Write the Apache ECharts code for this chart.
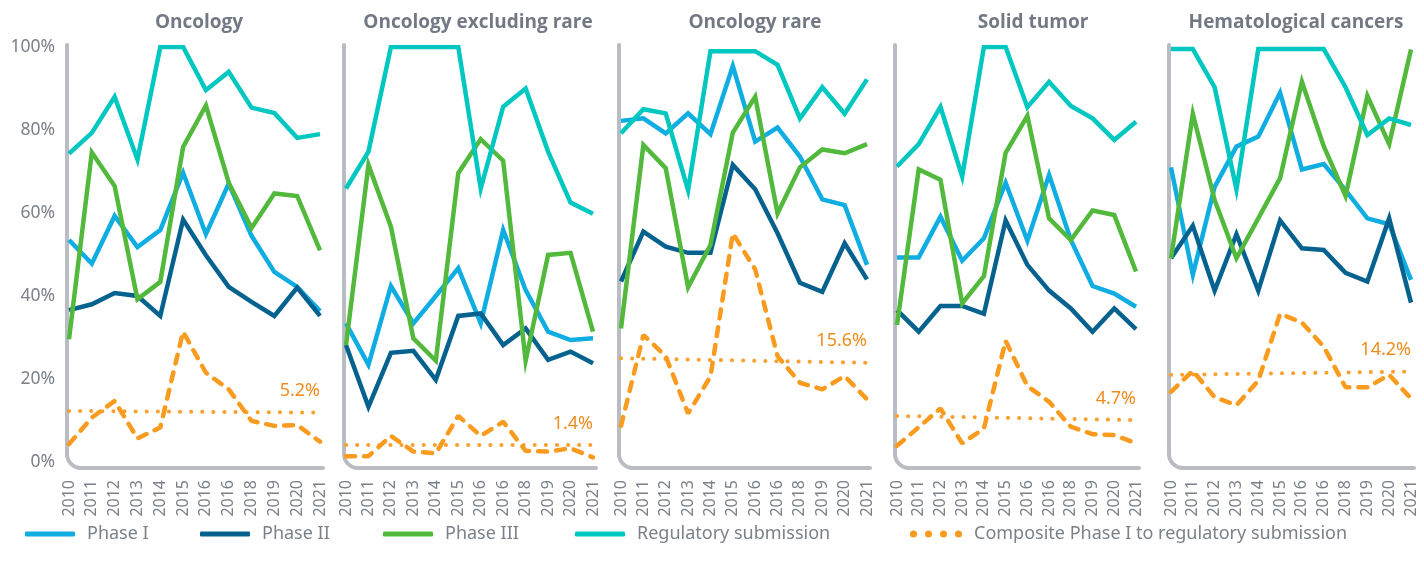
<!DOCTYPE html>
<html><head><meta charset="utf-8">
<script src="https://cdn.jsdelivr.net/npm/echarts@6/dist/echarts.min.js"></script>
<style>html,body{margin:0;padding:0;background:#fff;}#c{width:1424px;height:571px;}</style>
</head><body><div id="c"></div>
<script>
const categories = ['2010','2011','2012','2013','2014','2015','2016','2016','2018','2019','2020','2021'];
const panels = ['Oncology','Oncology excluding rare','Oncology rare','Solid tumor','Hematological cancers'];
const yTicks = [0,20,40,60,80,100];
const seriesNames = ['Phase I','Phase II','Phase III','Regulatory submission','Composite Phase I to regulatory submission'];

const phase1 = [
  [53.5,47.8,59.3,51.8,55.9,69.7,54.9,67.1,54.5,45.8,42.2,36.4],
  [33.4,23.4,42.4,33.4,40.0,46.7,33.4,55.9,41.4,31.4,29.4,29.8],
  [82.2,82.8,79.2,84.0,79.0,95.4,77.2,80.6,73.6,63.3,61.9,47.5],
  [49.3,49.3,59.1,48.5,53.9,67.3,53.3,69.2,53.5,42.4,40.6,37.4],
  [71.0,45.1,66.3,76.0,78.4,89.0,70.5,71.8,65.5,58.7,57.3,43.9]
];
const phase2 = [
  [36.6,38.0,40.7,40.0,35.2,58.4,49.8,42.2,38.6,35.2,42.0,35.2],
  [28.2,13.3,26.3,26.8,19.8,35.2,35.8,28.2,32.2,24.6,26.6,23.8],
  [43.5,55.5,51.9,50.4,50.4,71.6,65.7,55.1,43.2,41.0,52.7,44.0],
  [36.6,31.4,37.6,37.6,35.7,58.2,47.5,41.3,37.0,31.4,37.0,32.0],
  [49.1,56.9,41.3,54.9,41.3,58.2,51.5,51.1,45.6,43.5,58.7,38.4]
];
const phase3 = [
  [29.6,74.6,66.5,39.2,43.4,75.9,85.9,67.3,56.4,64.7,64.1,51.0],
  [28.2,71.6,56.7,29.8,24.4,69.6,77.8,72.6,24.4,49.9,50.4,31.4],
  [32.2,76.4,70.8,42.1,52.3,79.4,88.0,59.9,71.0,75.3,74.4,76.6],
  [33.0,70.5,68.0,38.2,44.8,74.5,83.4,58.7,53.5,60.6,59.5,45.9],
  [49.1,83.9,63.1,49.1,58.7,68.4,91.6,76.1,64.1,88.2,76.6,99.4]
];
const regulatory = [
  [74.3,79.3,88.0,72.9,100,100,89.6,94.0,85.4,84.1,78.1,79.0],
  [65.9,74.8,100,100,100,100,65.9,85.6,90.0,74.8,62.5,59.8],
  [79.2,85.0,84.0,65.5,99,99,99,95.7,82.8,90.3,83.9,92.2],
  [71.2,76.6,85.6,68.8,100,100,85.5,91.6,85.8,82.8,77.6,82.0],
  [99.5,99.5,90.3,65.7,99.5,99.5,99.5,99.5,90.3,78.8,82.8,81.2]
];
const composite = [
  [4.3,10.7,14.7,5.7,8.3,31.4,21.5,17.5,9.9,8.7,8.9,4.9],
  [1.4,1.4,6.3,2.5,2.1,11.1,6.3,9.7,2.7,2.5,3.3,1.1],
  [8.7,30.6,25.5,11.7,20.6,55.1,46.4,25.5,19.1,17.5,20.7,15.1],
  [3.9,8.4,12.9,4.5,8.1,29.2,18.3,14.5,8.5,6.7,6.5,4.5],
  [16.9,22.0,15.6,13.7,19.6,35.7,33.6,27.8,18.0,18.0,21.0,15.3]
];
const trendStart = [12.3, 4.1, 25.0, 11.1, 21.0];
const trendEnd = [11.9, 4.1, 23.9, 10.1, 21.8];
const endLabels = ['5.2%','1.4%','15.6%','4.7%','14.2%'];

const colors = ['#0FADE2','#05628F','#52B93C','#00C7C0','#F89B1E'];
const gridLeft = [69, 346, 621, 897, 1171];
const gridWidth = [251, 247, 246, 239, 240];
const gridTop = 47, gridHeight = 415;
const gray = '#7b818a';
const font = "'Noto Sans', 'Open Sans', sans-serif";

const grids = [], xAxes = [], yAxes = [], series = [];
for (let i = 0; i < 5; i++) {
  grids.push({left: gridLeft[i], width: gridWidth[i], top: gridTop, height: gridHeight});
  xAxes.push({
    type: 'category', gridIndex: i, data: categories, boundaryGap: false,
    axisLine: {show: false}, axisTick: {show: false}, splitLine: {show: false},
    axisLabel: {rotate: 90, interval: 0, margin: 18, color: gray, fontSize: 16, fontFamily: font}
  });
  yAxes.push({
    type: 'value', gridIndex: i, min: 0, max: 100, interval: 20,
    axisLine: {show: false}, axisTick: {show: false}, splitLine: {show: false},
    axisLabel: {show: i === 0, formatter: '{value}%', color: gray, fontSize: 17.5, margin: 14, fontFamily: font}
  });
  const sets = [phase1[i], phase2[i], phase3[i], regulatory[i]];
  sets.forEach((d, k) => {
    series.push({
      name: seriesNames[k], type: 'line', xAxisIndex: i, yAxisIndex: i, data: d,
      showSymbol: false, symbol: 'none', smooth: false, silent: true,
      lineStyle: {color: colors[k], width: 4.5, join: 'miter', cap: 'butt'},
      itemStyle: {color: colors[k]}, z: 3
    });
  });
  const tdata = categories.map((c, j) => j === 0 ? trendStart[i] : (j === categories.length - 1 ? {
    value: trendEnd[i],
    label: {show: true, formatter: endLabels[i], position: 'top', align: 'right', distance: 12,
      color: '#F08C1E', fontSize: 18, fontFamily: font}
  } : null));
  series.push({
    name: 'trend', type: 'line', xAxisIndex: i, yAxisIndex: i, data: tdata, connectNulls: true,
    showSymbol: true, symbol: 'circle', symbolSize: 1, silent: true,
    itemStyle: {color: 'rgba(0,0,0,0)'},
    lineStyle: {color: '#F9A030', width: 4, type: [0.1, 11], cap: 'round'}, z: 2
  });
  series.push({
    name: seriesNames[4], type: 'line', xAxisIndex: i, yAxisIndex: i, data: composite[i],
    showSymbol: false, symbol: 'none', silent: true,
    lineStyle: {color: colors[4], width: 4.5, type: [9, 9], cap: 'round'},
    itemStyle: {color: colors[4]}, z: 4
  });
}

const dotsIcon = 'path://M0,3.5a3.5,3.5 0 1,0 7,0a3.5,3.5 0 1,0 -7,0Z M15,3.5a3.5,3.5 0 1,0 7,0a3.5,3.5 0 1,0 -7,0Z M30,3.5a3.5,3.5 0 1,0 7,0a3.5,3.5 0 1,0 -7,0Z M45,3.5a3.5,3.5 0 1,0 7,0a3.5,3.5 0 1,0 -7,0Z';
const legendLeft = [25, 200, 383, 575, 910];
const legends = seriesNames.map((n, k) => ({
  top: 525, left: legendLeft[k], padding: 0, itemWidth: k === 4 ? 52 : 50, itemHeight: k === 4 ? 7 : 5, itemGap: 0,
  selectedMode: false,
  data: [{name: n, icon: k === 4 ? dotsIcon : 'roundRect', itemStyle: {color: colors[k]}}],
  textStyle: {color: gray, fontSize: 18, fontFamily: font, padding: [0, 0, 0, 7]}
}));

const chart = echarts.init(document.getElementById('c'), null, {renderer: 'canvas'});
chart.setOption({
  animation: false,
  backgroundColor: '#fff',
  grid: grids, xAxis: xAxes, yAxis: yAxes, series: series, legend: legends
});

const graphics = [];
const titleCenter = [199, 478, 755, 1033, 1296];
const axisStyle = {stroke: '#B9BCC2', lineWidth: 4, fill: null, lineCap: 'round'};
for (let i = 0; i < 5; i++) {
  const p0 = chart.convertToPixel({gridIndex: i}, [0, 100]);
  const p1 = chart.convertToPixel({gridIndex: i}, [categories.length - 1, 0]);
  const x = p0[0] - 2, top = p0[1] - 2, bottom = p1[1] + 6, right = p1[0] + 3, r = 14;
  graphics.push({type: 'line', silent: true, z: 1, shape: {x1: x, y1: top, x2: x, y2: bottom - r}, style: axisStyle});
  graphics.push({type: 'arc', silent: true, z: 1,
    shape: {cx: x + r, cy: bottom - r, r: r, startAngle: Math.PI / 2, endAngle: Math.PI, clockwise: true},
    style: axisStyle});
  graphics.push({type: 'line', silent: true, z: 1, shape: {x1: x + r, y1: bottom, x2: right, y2: bottom}, style: axisStyle});
  graphics.push({
    type: 'text', silent: true, x: titleCenter[i], y: 13,
    style: {text: panels[i], fill: '#737984', font: "bold 19px 'Open Sans', 'Noto Sans', sans-serif", textAlign: 'center'}
  });
}
chart.setOption({graphic: graphics});
</script>
</body></html>
